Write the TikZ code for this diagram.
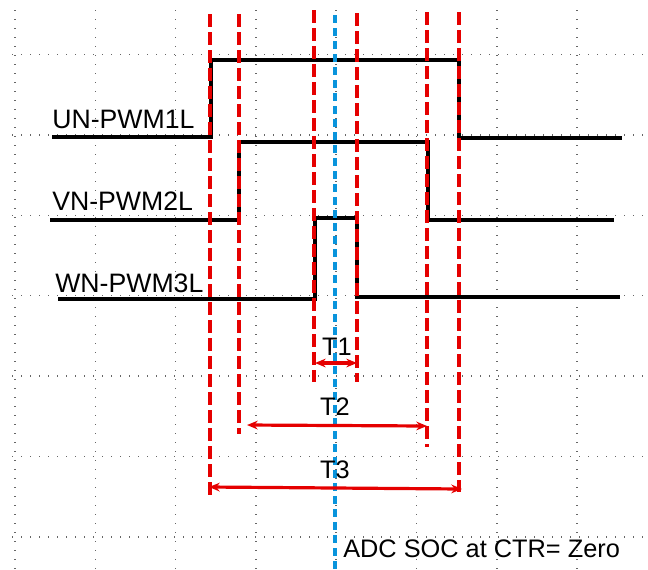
\documentclass[tikz,border=0pt]{standalone}
\usepackage{fontspec}
\setmainfont{Liberation Sans}
\usetikzlibrary{arrows.meta, positioning, calc}
\tikzset{
  gridline/.style={black!60, line width=1.1pt, dash pattern=on 1.1pt off 5.65pt},
  wave/.style={black, line width=2.6pt},
  thickwave/.style={black, line width=3.3pt},
  edgeline/.style={red!90!black, line width=2.9pt, dash pattern=on 9.75pt off 3.75pt},
  zeroline/.style={cyan!80!blue, line width=2.7pt, dash pattern=on 6pt off 3.75pt},
  spanarrow/.style={{Stealth[length=8pt,width=6.5pt]}-{Stealth[length=8pt,width=6.5pt]},
    red!90!black, line width=2.4pt},
  siglabel/.style={font=\fontsize{20}{24}\selectfont, anchor=base west, inner sep=0pt},
  spanlabel/.style={font=\fontsize{19}{23}\selectfont, anchor=base, inner sep=0pt}
}
\begin{document}
\begin{tikzpicture}[x=0.75pt, y=-0.75pt]
  \useasboundingbox (0,0) rectangle (648,569);
  \foreach \gx in {15,95.3,175.6,255.9,336.2,416.5,496.8,577.1}
    \draw[gridline] (\gx,10) -- (\gx,569);
  \foreach \gy in {54.5,134.9,215.3,295.7,376.1,456.5,536.9}
    \draw[gridline] (12,\gy) -- (648,\gy);
  \draw[wave] (52,137) -- (211,137) -- (211,60) -- (459,60) -- (459,138) -- (622,138);
  \draw[thickwave] (50,220) -- (239,220) -- (239,142) -- (428,142) -- (428,220) -- (614,220);
  \draw[thickwave] (58,299) -- (315,299) -- (315,218) -- (357,218) -- (357,297) -- (620,297);
  \node[siglabel] (un) at (52,128) {UN-PWM1L};
  \node[siglabel] (vn) at (52,210) {VN-PWM2L};
  \node[siglabel] (wn) at (55,292) {WN-PWM3L};
  \draw[zeroline] (335,15) -- (335,569);
  \draw[edgeline] (210,14) -- (210,498);
  \draw[edgeline] (459,12) -- (459,492);
  \draw[edgeline] (239,14) -- (239,434);
  \draw[edgeline] (427,12) -- (427,447);
  \draw[edgeline] (314,10) -- (314,382);
  \draw[edgeline] (357,13) -- (357,382);
  \coordinate (t1a) at (315,363);
  \coordinate (t1b) at (357,363);
  \coordinate (t2a) at (247,425);
  \coordinate (t2b) at (427,426);
  \coordinate (t3a) at (209,487);
  \coordinate (t3b) at (462,489);
  \draw[spanarrow] (t1a) -- (t1b);
  \draw[spanarrow] (t2a) -- (t2b);
  \draw[spanarrow] (t3a) -- (t3b);
  \node[spanlabel] (t1) at (337,355) {T1};
  \node[spanlabel] (t2) at (335,415) {T2};
  \node[spanlabel] (t3) at (335,478) {T3};
  \node[siglabel, font=\fontsize{19}{23}\selectfont] (adc) at (343,557) {ADC SOC at CTR= Zero};
\end{tikzpicture}
\end{document}
